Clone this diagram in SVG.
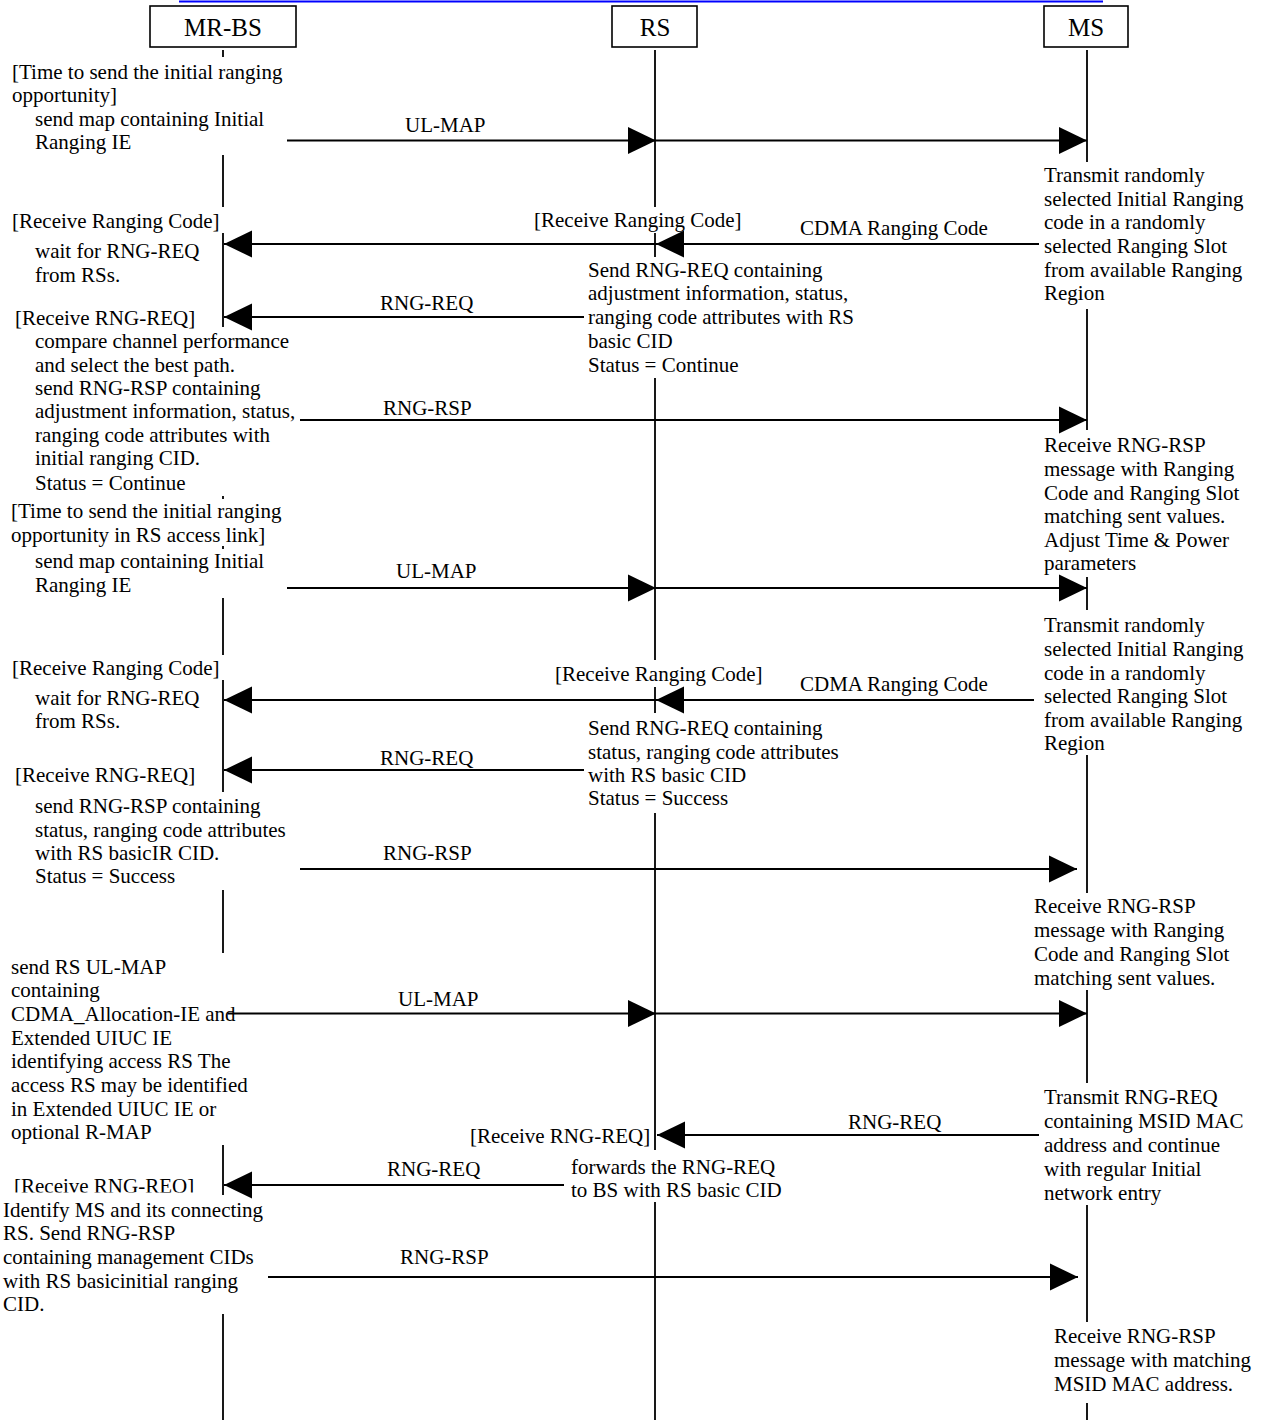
<svg xmlns="http://www.w3.org/2000/svg" width="1263" height="1420" viewBox="0 0 1263 1420">
<style>
.t{font-family:"Liberation Serif","Times New Roman",serif;font-size:21px;fill:#000}
.h{font-family:"Liberation Serif","Times New Roman",serif;font-size:25px;fill:#000;text-anchor:middle}
.box{fill:#fff;stroke:#000;stroke-width:1.6}
.ll{stroke:#000;stroke-width:1.8;fill:none}
.msg{stroke:#000;stroke-width:2.2;fill:none;marker-end:url(#ah)}
</style>
<defs>
<marker id="ah" markerUnits="userSpaceOnUse" markerWidth="28" markerHeight="27" refX="28" refY="13.5" orient="auto" overflow="visible">
<path d="M0,0 L28,13.5 L0,27 Z" fill="#000"/>
</marker>
<clipPath id="clipq"><rect x="0" y="1160" width="300" height="32.5"/></clipPath>
</defs>
<rect width="1263" height="1420" fill="#fff"/>
<line x1="179" y1="1.5" x2="1103" y2="1.5" stroke="#0000ff" stroke-width="2"/>

<g id="mrbs">
<rect class="box" x="150" y="6" width="146" height="41"/>
<text class="h" x="223" y="36">MR-BS</text>
<path class="ll" d="M223,50V57 M223,155V207 M223,233V327 M223,496V499 M223,546V549 M223,598V655 M223,680V792 M223,890V953 M223,1145V1195 M223,1314V1420"/>
<text class="t" x="12" y="79">[Time to send the initial ranging</text>
<text class="t" x="12" y="102">opportunity]</text>
<text class="t" x="35" y="126">send map containing Initial</text>
<text class="t" x="35" y="149">Ranging IE</text>
<text class="t" x="12" y="228">[Receive Ranging Code]</text>
<text class="t" x="35" y="258">wait for RNG-REQ</text>
<text class="t" x="35" y="282">from RSs.</text>
<text class="t" x="15" y="325">[Receive RNG-REQ]</text>
<text class="t" x="35" y="348">compare channel performance</text>
<text class="t" x="35" y="372">and select the best path.</text>
<text class="t" x="35" y="395">send RNG-RSP containing</text>
<text class="t" x="35" y="418">adjustment information, status,</text>
<text class="t" x="35" y="442">ranging code attributes with</text>
<text class="t" x="35" y="465">initial ranging CID.</text>
<text class="t" x="35" y="490">Status = Continue</text>
<text class="t" x="11" y="518">[Time to send the initial ranging</text>
<text class="t" x="11" y="542">opportunity in RS access link]</text>
<text class="t" x="35" y="568">send map containing Initial</text>
<text class="t" x="35" y="592">Ranging IE</text>
<text class="t" x="12" y="675">[Receive Ranging Code]</text>
<text class="t" x="35" y="705">wait for RNG-REQ</text>
<text class="t" x="35" y="728">from RSs.</text>
<text class="t" x="15" y="782">[Receive RNG-REQ]</text>
<text class="t" x="35" y="813">send RNG-RSP containing</text>
<text class="t" x="35" y="837">status, ranging code attributes</text>
<text class="t" x="35" y="860">with RS basicIR CID.</text>
<text class="t" x="35" y="883">Status = Success</text>
<text class="t" x="11" y="974">send RS UL-MAP</text>
<text class="t" x="11" y="997">containing</text>
<text class="t" x="11" y="1021">CDMA_Allocation-IE and</text>
<text class="t" x="11" y="1045">Extended UIUC IE</text>
<text class="t" x="11" y="1068">identifying access RS The</text>
<text class="t" x="11" y="1092">access RS may be identified</text>
<text class="t" x="11" y="1116">in Extended UIUC IE or</text>
<text class="t" x="11" y="1139">optional R-MAP</text>
<text class="t" x="14" y="1193" clip-path="url(#clipq)">[Receive RNG-REQ]</text>
<text class="t" x="3" y="1217">Identify MS and its connecting</text>
<text class="t" x="3" y="1240">RS. Send RNG-RSP</text>
<text class="t" x="3" y="1264">containing management CIDs</text>
<text class="t" x="3" y="1288">with RS basicinitial ranging</text>
<text class="t" x="3" y="1311">CID.</text>
</g>

<g id="rs">
<rect class="box" x="612" y="6" width="85" height="41"/>
<text class="h" x="655" y="36">RS</text>
<path class="ll" d="M655,50V207 M655,233V257 M655,378V660 M655,687V713 M655,813V1150 M655,1202V1420"/>
<text class="t" x="534" y="227">[Receive Ranging Code]</text>
<text class="t" x="588" y="277">Send RNG-REQ containing</text>
<text class="t" x="588" y="300">adjustment information, status,</text>
<text class="t" x="588" y="324">ranging code attributes with RS</text>
<text class="t" x="588" y="348">basic CID</text>
<text class="t" x="588" y="372">Status = Continue</text>
<text class="t" x="555" y="681">[Receive Ranging Code]</text>
<text class="t" x="588" y="735">Send RNG-REQ containing</text>
<text class="t" x="588" y="759">status, ranging code attributes</text>
<text class="t" x="588" y="782">with RS basic CID</text>
<text class="t" x="588" y="805">Status = Success</text>
<text class="t" x="470" y="1143">[Receive RNG-REQ]</text>
<text class="t" x="571" y="1174">forwards the RNG-REQ</text>
<text class="t" x="571" y="1197">to BS with RS basic CID</text>
</g>

<g id="ms">
<rect class="box" x="1044" y="6" width="84" height="41"/>
<text class="h" x="1086" y="36">MS</text>
<path class="ll" d="M1087,50V162 M1087,309V430 M1087,577V610 M1087,755V893 M1087,990V1083 M1087,1205V1322 M1087,1403V1420"/>
<text class="t" x="1044" y="182">Transmit randomly</text>
<text class="t" x="1044" y="206">selected Initial Ranging</text>
<text class="t" x="1044" y="229">code in a randomly</text>
<text class="t" x="1044" y="253">selected Ranging Slot</text>
<text class="t" x="1044" y="277">from available Ranging</text>
<text class="t" x="1044" y="300">Region</text>
<text class="t" x="1044" y="452">Receive RNG-RSP</text>
<text class="t" x="1044" y="476">message with Ranging</text>
<text class="t" x="1044" y="500">Code and Ranging Slot</text>
<text class="t" x="1044" y="523">matching sent values.</text>
<text class="t" x="1044" y="547">Adjust Time &amp; Power</text>
<text class="t" x="1044" y="570">parameters</text>
<text class="t" x="1044" y="632">Transmit randomly</text>
<text class="t" x="1044" y="656">selected Initial Ranging</text>
<text class="t" x="1044" y="680">code in a randomly</text>
<text class="t" x="1044" y="703">selected Ranging Slot</text>
<text class="t" x="1044" y="727">from available Ranging</text>
<text class="t" x="1044" y="750">Region</text>
<text class="t" x="1034" y="913">Receive RNG-RSP</text>
<text class="t" x="1034" y="937">message with Ranging</text>
<text class="t" x="1034" y="961">Code and Ranging Slot</text>
<text class="t" x="1034" y="985">matching sent values.</text>
<text class="t" x="1044" y="1104">Transmit RNG-REQ</text>
<text class="t" x="1044" y="1128">containing MSID MAC</text>
<text class="t" x="1044" y="1152">address and continue</text>
<text class="t" x="1044" y="1176">with regular Initial</text>
<text class="t" x="1044" y="1200">network entry</text>
<text class="t" x="1054" y="1343">Receive RNG-RSP</text>
<text class="t" x="1054" y="1367">message with matching</text>
<text class="t" x="1054" y="1391">MSID MAC address.</text>
</g>

<g id="connectors">
<line class="msg" x1="287" y1="140.5" x2="656" y2="140.5"/>
<line class="msg" x1="656" y1="140.5" x2="1087" y2="140.5"/>
<text class="t" x="405" y="132">UL-MAP</text>
<line class="msg" x1="1039" y1="244" x2="656" y2="244"/>
<line class="msg" x1="656" y1="244" x2="224" y2="244"/>
<text class="t" x="800" y="235">CDMA Ranging Code</text>
<line class="msg" x1="584" y1="317" x2="224" y2="317"/>
<text class="t" x="380" y="310">RNG-REQ</text>
<line class="msg" x1="300" y1="420" x2="1087" y2="420"/>
<text class="t" x="383" y="415">RNG-RSP</text>
<line class="msg" x1="287" y1="588" x2="656" y2="588"/>
<line class="msg" x1="656" y1="588" x2="1087" y2="588"/>
<text class="t" x="396" y="578">UL-MAP</text>
<line class="msg" x1="1034" y1="700" x2="656" y2="700"/>
<line class="msg" x1="656" y1="700" x2="224" y2="700"/>
<text class="t" x="800" y="691">CDMA Ranging Code</text>
<line class="msg" x1="584" y1="770" x2="224" y2="770"/>
<text class="t" x="380" y="765">RNG-REQ</text>
<line class="msg" x1="300" y1="869" x2="1077" y2="869"/>
<text class="t" x="383" y="860">RNG-RSP</text>
<line class="msg" x1="228" y1="1013.5" x2="656" y2="1013.5"/>
<line class="msg" x1="656" y1="1013.5" x2="1087" y2="1013.5"/>
<text class="t" x="398" y="1006">UL-MAP</text>
<line class="msg" x1="1039" y1="1135" x2="657" y2="1135"/>
<text class="t" x="848" y="1129">RNG-REQ</text>
<line class="msg" x1="564" y1="1185" x2="224" y2="1185"/>
<text class="t" x="387" y="1176">RNG-REQ</text>
<line class="msg" x1="268" y1="1277" x2="1078" y2="1277"/>
<text class="t" x="400" y="1264">RNG-RSP</text>
</g>
</svg>
